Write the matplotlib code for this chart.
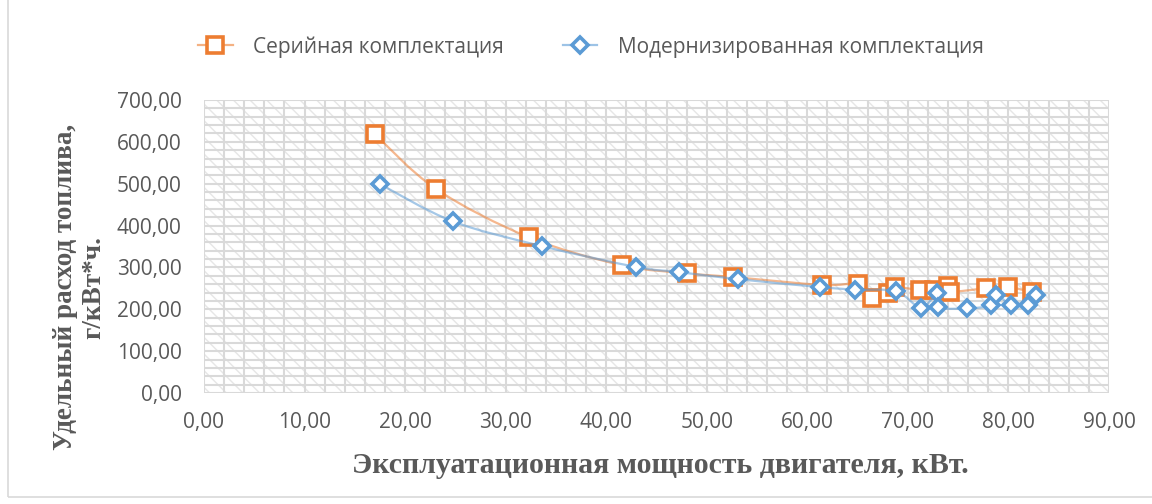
import numpy as np
import matplotlib
matplotlib.use("Agg")
import matplotlib.pyplot as plt
from matplotlib.path import Path
from matplotlib.patches import PathPatch, Rectangle
from matplotlib.ticker import MultipleLocator, FuncFormatter

# ---------------------------------------------------------------
# data
serial_x = [17.0, 23.1, 32.3, 41.6, 48.0, 52.6, 61.5, 65.0, 66.4, 68.0,
            68.7, 71.2, 72.6, 74.0, 74.2, 77.8, 80.0, 82.3]
serial_y = [618, 487, 372, 305, 286, 277, 258, 260, 227, 240,
            253, 246, 246, 255, 242, 250, 253, 241]

modern_x = [17.5, 24.75, 33.6, 43.0, 47.2, 53.1, 61.3, 64.7, 68.8, 71.3,
            72.9, 73.0, 75.9, 78.3, 78.8, 80.3, 81.9, 82.7]
modern_y = [499, 410, 351, 301, 289, 272, 253, 247, 243, 204,
            239, 205, 202, 210, 234, 210, 210, 234]

serial_name = 'Серийная комплектация'
modern_name = 'Модернизированная комплектация'
x_title = 'Эксплуатационная мощность двигателя, кВт.'
y_title = 'Удельный расход топлива,\nг/кВт*ч.'

ORANGE = '#ED7D31'
BLUE = '#5B9BD5'
GREY_TXT = '#595959'
GRID = '#D9D9D9'

plt.rcParams['font.family'] = ['Open Sans', 'DejaVu Sans']
plt.rcParams['hatch.linewidth'] = 1.0


def smooth_path(xs, ys):
    # excel-like smoothed line: catmull-rom segments as cubic beziers
    p = np.column_stack([xs, ys]).astype(float)
    n = len(p)
    verts = [p[0]]
    codes = [Path.MOVETO]
    for i in range(n - 1):
        p0 = p[i - 1] if i > 0 else p[i]
        p1 = p[i]
        p2 = p[i + 1]
        p3 = p[i + 2] if i + 2 < n else p[i + 1]
        c1 = p1 + (p2 - p0) / 6.0
        c2 = p2 - (p3 - p1) / 6.0
        verts += [c1, c2, p2]
        codes += [Path.CURVE4] * 3
    return Path(verts, codes)


fig = plt.figure(figsize=(11.52, 5.04), dpi=100)
ax = fig.add_axes([204 / 1152, 1 - 393 / 504, (1109 - 204) / 1152, (393 - 100) / 504])

# hatched plot area
ax.add_patch(Rectangle((0, 0), 1, 1, transform=ax.transAxes, facecolor='white',
                       edgecolor='#E6E6E6', hatch='\\\\', lw=0, zorder=0))

ax.set_xlim(0, 90)
ax.set_ylim(0, 700)
ax.xaxis.set_major_locator(MultipleLocator(10))
ax.yaxis.set_major_locator(MultipleLocator(100))
ax.xaxis.set_minor_locator(MultipleLocator(2))
ax.yaxis.set_minor_locator(MultipleLocator(20))
fmt = FuncFormatter(lambda v, pos: ('%.2f' % v).replace('.', ','))
ax.xaxis.set_major_formatter(fmt)
ax.yaxis.set_major_formatter(fmt)
ax.grid(True, which='both', color=GRID, lw=1.5, zorder=1)
ax.set_axisbelow(True)
for s in ax.spines.values():
    s.set_visible(False)
ax.tick_params(which='both', length=0, labelsize=15, colors=GREY_TXT)
ax.tick_params(axis='x', pad=14)
ax.tick_params(axis='y', pad=16)

# series 1
ax.add_patch(PathPatch(smooth_path(serial_x, serial_y), facecolor='none',
                       edgecolor=ORANGE, alpha=0.55, lw=1.6, zorder=3))
ax.plot(serial_x, serial_y, ls='none', marker='s', ms=11, mew=2.6,
        mfc='white', mec=ORANGE, zorder=4)
# series 2
ax.add_patch(PathPatch(smooth_path(modern_x, modern_y), facecolor='none',
                       edgecolor=BLUE, alpha=0.55, lw=1.6, zorder=5))
ax.plot(modern_x, modern_y, ls='none', marker='D', ms=8.5, mew=2.6,
        mfc='white', mec=BLUE, zorder=6)

# legend handles
h1, = ax.plot([], [], color='#F4B183', lw=1.6, marker='s', ms=11, mew=2.6,
              mfc='white', mec=ORANGE)
h2, = ax.plot([], [], color='#9DC3E6', lw=1.6, marker='D', ms=8.5, mew=2.6,
              mfc='white', mec=BLUE)
leg = fig.legend([h1, h2], [serial_name, modern_name], loc='center',
                 bbox_to_anchor=(0.513, 0.907), ncol=2, frameon=False,
                 fontsize=15, handlelength=1.65, handletextpad=1.0,
                 columnspacing=2.8)
for t in leg.get_texts():
    t.set_color(GREY_TXT)

fig.text(0.573, 0.077, x_title, ha='center', va='center', fontsize=21.5,
         fontweight='bold', family='Liberation Serif', color=GREY_TXT)
fig.text(0.069, 0.43, y_title, ha='center', va='center', rotation=90,
         fontsize=19.5, fontweight='bold', family='Liberation Serif',
         color=GREY_TXT, multialignment='center', linespacing=1.15)

# chart area border
fig.patches.append(Rectangle((8 / 1152, 7 / 504), 1.2, 1.2, transform=fig.transFigure,
                             facecolor='none', edgecolor=GRID, lw=1.2))

fig.savefig('out.png', dpi=100)
